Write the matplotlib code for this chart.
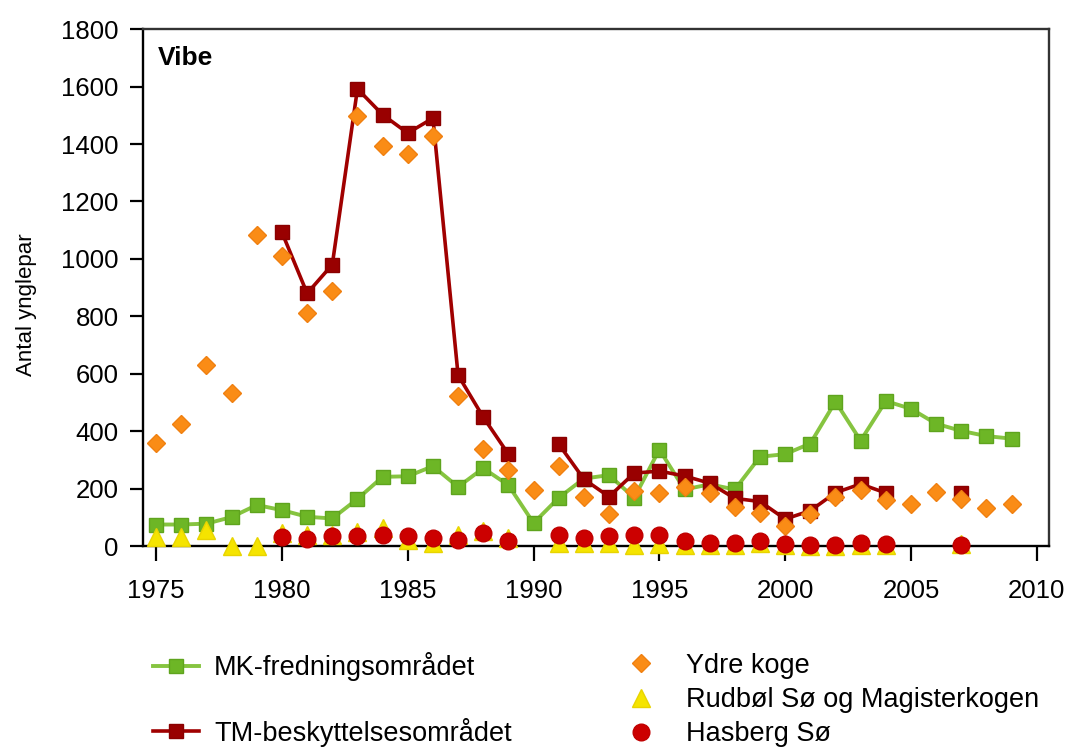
import numpy as np
import matplotlib
matplotlib.use('Agg')
import matplotlib.pyplot as plt

plt.rcParams['font.family'] = ['Liberation Sans', 'DejaVu Sans']

nan = np.nan
years = list(range(1975, 2010))

# MK-fredningsområdet
mk = [75, 75, 78, 101, 143, 125, 102, 96, 164, 241,
      243, 278, 206, 271, 212, 80, 168, 235, 247, 168,
      336, 197, 215, 197, 311, 320, 357, 503, 367, 505,
      478, 426, 401, 383, 374]
# TM-beskyttelsesområdet
tm = [nan, nan, nan, nan, nan, 1092, 880, 980, 1592, 1502,
      1438, 1490, 595, 449, 320, nan, 355, 233, 172, 254,
      261, 244, 219, 166, 155, 94, 123, 186, 216, 185,
      nan, nan, 185, nan, nan]
# Ydre koge
ydre = [360, 424, 632, 534, 1082, 1010, 810, 888, 1498, 1394,
        1364, 1428, 521, 338, 265, 195, 279, 170, 111, 193,
        185, 205, 186, 137, 114, 69, 111, 170, 196, 162,
        147, 188, 165, 132, 146]
# Rudbøl Sø og Magisterkogen
rudbol = [30, 33, 55, 0, 0, 45, 40, 40, 48, 62,
          20, 12, 38, 52, 28, nan, 10, 10, 12, 5,
          8, 5, 3, 3, 12, 3, 0, 0, 5, 5,
          nan, nan, 8, nan, nan]
# Hasberg Sø
hasberg = [nan, nan, nan, nan, nan, 31, 23, 35, 35, 38,
           35, 29, 21, 46, 17, nan, 37, 29, 35, 38,
           38, 17, 12, 12, 17, 7, 2, 3, 10, 7,
           nan, nan, 2, nan, nan]

fig = plt.figure(figsize=(10.7, 7.47), dpi=100)
ax = fig.add_axes([0.1335, 0.269, 0.8467, 0.692])

l_mk, = ax.plot(years, mk, color='#86C440', lw=2.8, marker='s', ms=10,
                mfc='#6DB626', mec='#5FA41E', mew=1, zorder=2, clip_on=False)
l_tm, = ax.plot(years, tm, color='#A00000', lw=2.6, marker='s', ms=10.5,
                mfc='#990000', mec='#8A0000', mew=1, zorder=3, clip_on=False)
l_ydre, = ax.plot(years, ydre, ls='none', marker='D', ms=9.5,
                  mfc='#FA8C16', mec='#F08010', mew=1, zorder=4, clip_on=False)
l_rud, = ax.plot(years, rudbol, ls='none', marker='^', ms=13,
                 mfc='#F5E400', mec='#E8D400', mew=1, zorder=5, clip_on=False)
l_has, = ax.plot(years, hasberg, ls='none', marker='o', ms=12,
                 mfc='#CC0000', mec='#C00000', mew=1, zorder=6, clip_on=False)

ax.set_xlim(1974.47, 2010.48)
ax.set_ylim(0, 1800)
ax.set_xticks(range(1975, 2011, 5))
ax.set_yticks(range(0, 1801, 200))
ax.tick_params(axis='x', direction='out', length=10.5, width=1.6, pad=13, labelsize=18.5)
ax.tick_params(axis='y', direction='out', length=9.5, width=1.6, pad=8, labelsize=18.5)
for s in ['left', 'bottom']:
    ax.spines[s].set_linewidth(1.7)
    ax.spines[s].set_color('black')
for s in ['top', 'right']:
    ax.spines[s].set_linewidth(1.7)
    ax.spines[s].set_color('#333333')

ax.set_ylabel('Antal ynglepar', fontsize=16)
ax.yaxis.set_label_coords(-0.117, 0.466)

ax.text(0.017, 0.968, 'Vibe', transform=ax.transAxes, fontsize=19,
        fontweight='bold', ha='left', va='top')

fig.legend([l_mk, l_tm], ['MK-fredningsområdet', 'TM-beskyttelsesområdet'],
           loc='upper left', bbox_to_anchor=(0.143, 0.127), frameon=False,
           fontsize=19.5, handlelength=1.7, handletextpad=0.55,
           labelspacing=1.35, borderpad=0, borderaxespad=0)
fig.legend([l_ydre, l_rud, l_has],
           ['Ydre koge', 'Rudbøl Sø og Magisterkogen', 'Hasberg Sø'],
           loc='upper left', bbox_to_anchor=(0.578, 0.126), frameon=False,
           fontsize=19.5, handlelength=1.7, handletextpad=0.8,
           labelspacing=0.3, borderpad=0, borderaxespad=0)

fig.savefig('out.png', dpi=100)
